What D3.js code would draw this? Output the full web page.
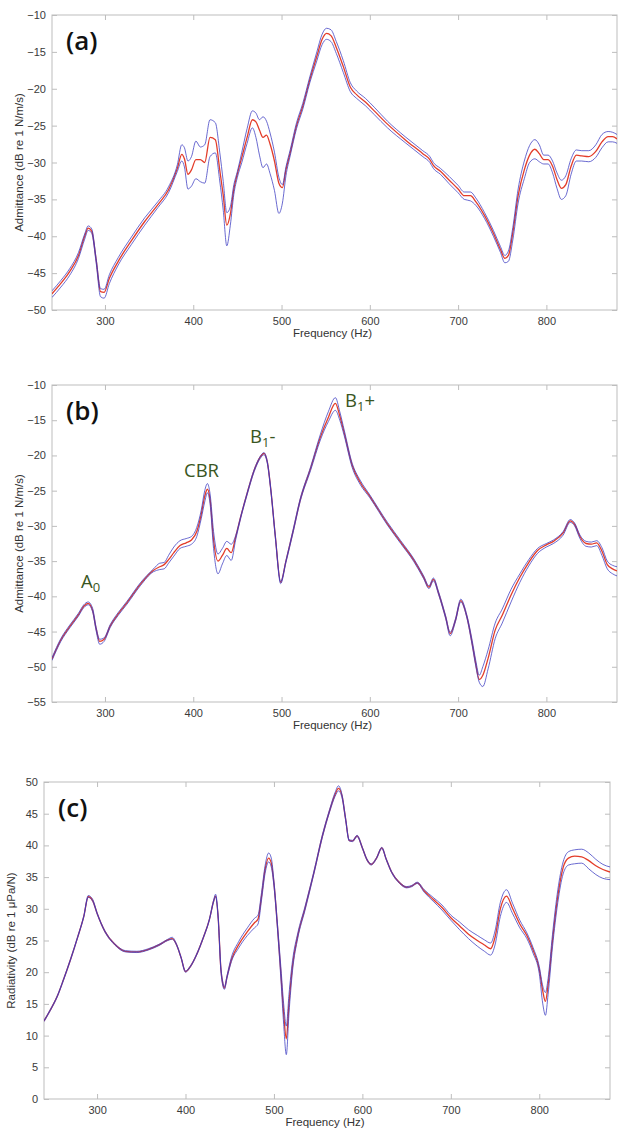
<!DOCTYPE html>
<html>
<head>
<meta charset="utf-8">
<script src="https://cdn.jsdelivr.net/npm/d3@7"></script>
<style>
  body { margin: 0; background: #fff; }
  svg { display: block; }
  .tick-label { font-family: "Liberation Sans", Arial, sans-serif; font-size: 11px; fill: #3a3a3a; }
  .axis-label { font-family: "Liberation Sans", Arial, sans-serif; font-size: 11.5px; fill: #333; }
  .panel-tag { font-family: "Open Sans", "Noto Sans", sans-serif; font-size: 26px; font-weight: 600; fill: #111; }
  .note { font-family: "Open Sans", "Noto Sans", sans-serif; font-size: 18.5px; fill: #395622; }
</style>
</head>
<body>
<div id="chart"></div>
<script>
// ---- panel (a): admittance, direction 1 ----
const freqA = [240, 250, 260, 270, 277, 281, 285, 290, 295, 299, 305, 315, 330, 345, 360, 372, 382, 387, 390, 394, 398, 403, 408, 413, 419, 425, 430, 434, 438, 442, 446, 450, 455, 461, 467, 471, 475, 479, 483, 487, 492, 497, 501, 505, 510, 517, 524, 532, 540, 546, 551, 556, 562, 570, 578, 585, 595, 605, 620, 640, 660, 668, 672, 680, 690, 700, 707, 714, 720, 730, 740, 748, 753, 757, 762, 768, 775, 781, 787, 792, 797, 802, 807, 812, 817, 822, 828, 834, 840, 848, 856, 863, 870, 875, 880];
const aMid = [-47.8, -46.4, -44.8, -42.6, -40.0, -38.9, -39.3, -43.2, -47.5, -47.6, -45.7, -43.4, -40.6, -38.0, -35.7, -33.7, -30.8, -28.9, -29.5, -31.6, -31.0, -29.6, -29.6, -30.0, -26.6, -26.9, -31.0, -34.5, -38.5, -37.0, -33.6, -31.5, -29.3, -26.6, -24.2, -24.5, -25.6, -26.6, -26.3, -27.5, -29.8, -32.8, -33.4, -31.0, -28.6, -25.0, -22.4, -18.8, -15.6, -13.3, -12.5, -12.8, -14.4, -17.0, -19.8, -20.8, -21.8, -23.0, -24.8, -26.9, -28.8, -29.6, -30.4, -31.2, -32.4, -33.6, -34.5, -34.5, -35.3, -37.2, -39.6, -41.8, -43.0, -42.6, -39.5, -34.5, -31.0, -29.0, -28.2, -28.8, -29.6, -29.6, -30.5, -32.3, -33.5, -33.0, -30.5, -29.0, -29.1, -29.2, -28.5, -27.2, -26.5, -26.5, -26.8];
const aHi = [-47.4, -46.0, -44.4, -42.2, -39.7, -38.6, -39.0, -43.0, -47.1, -47.2, -45.2, -42.9, -40.1, -37.5, -35.3, -33.3, -30.3, -27.6, -28.0, -29.8, -29.2, -27.1, -27.9, -27.6, -24.2, -24.6, -28.6, -32.6, -36.8, -36.0, -33.0, -31.2, -28.6, -25.4, -23.0, -23.3, -24.2, -23.8, -24.4, -26.0, -28.6, -32.0, -33.0, -30.6, -28.2, -24.6, -22.0, -18.4, -15.0, -12.6, -11.8, -12.0, -13.6, -16.2, -19.2, -20.3, -21.3, -22.5, -24.4, -26.5, -28.4, -29.2, -30.0, -30.8, -31.9, -33.1, -34.0, -34.0, -34.8, -36.8, -39.2, -41.4, -42.6, -42.0, -38.8, -33.6, -29.8, -27.7, -26.9, -27.6, -29.0, -29.0, -29.8, -31.4, -32.4, -31.8, -29.5, -28.3, -28.4, -28.4, -27.6, -26.2, -25.8, -25.9, -26.2];
const aLo = [-48.3, -46.9, -45.3, -43.0, -40.4, -39.2, -39.6, -43.6, -48.2, -48.4, -46.4, -43.9, -41.1, -38.5, -36.1, -34.1, -31.2, -29.8, -30.6, -33.6, -33.2, -32.2, -32.6, -32.8, -29.2, -28.7, -32.5, -36.5, -41.3, -38.5, -34.3, -32.0, -30.0, -27.4, -25.3, -26.6, -29.0, -30.7, -30.2, -31.5, -33.8, -36.9, -35.5, -31.8, -29.0, -25.4, -22.8, -19.2, -16.2, -14.0, -13.3, -13.6, -15.2, -17.8, -20.4, -21.3, -22.3, -23.5, -25.3, -27.3, -29.2, -30.0, -30.8, -31.6, -32.9, -34.1, -35.0, -35.2, -35.8, -37.6, -40.0, -42.2, -43.6, -43.4, -40.5, -35.5, -32.2, -30.0, -29.5, -29.9, -30.2, -30.2, -31.4, -33.5, -35.0, -34.5, -31.6, -29.8, -29.8, -29.9, -29.3, -28.0, -27.2, -27.2, -27.4];

// ---- panel (b): admittance, direction 2 ----
const freqB = [240, 250, 260, 270, 276, 281, 286, 290, 294, 299, 306, 315, 325, 340, 355, 362, 367, 372, 378, 385, 392, 398, 404, 409, 413, 416, 419, 423, 428, 433, 438, 443, 448, 454, 461, 469, 476, 480, 484, 488, 493, 499, 505, 513, 521, 533, 544, 553, 561, 566, 571, 580, 589, 600, 620, 635, 650, 661, 667, 672, 678, 686, 691, 697, 703, 710, 716, 720, 724, 728, 734, 742, 750, 760, 770, 780, 790, 800, 808, 819, 827, 832, 838, 845, 851, 857, 863, 869, 875, 880];
const bMid = [-48.9, -46.2, -44.3, -42.6, -41.4, -41.0, -42.0, -44.6, -46.4, -46.1, -44.2, -42.5, -40.9, -38.3, -36.3, -35.8, -35.5, -34.8, -33.8, -32.8, -32.4, -32.0, -30.8, -28.4, -25.8, -24.8, -26.2, -32.0, -35.0, -34.2, -33.2, -33.8, -31.6, -28.6, -25.4, -22.1, -20.2, -19.7, -21.0, -25.0, -31.5, -38.0, -35.0, -30.8, -26.4, -21.8, -17.4, -14.6, -12.6, -14.4, -16.8, -21.4, -23.8, -25.8, -29.7, -32.3, -34.9, -37.3, -38.7, -37.6, -39.6, -43.0, -45.3, -43.4, -40.6, -42.9, -46.7, -49.6, -51.8, -51.2, -48.8, -44.8, -42.7, -39.8, -37.3, -35.2, -33.5, -32.7, -32.2, -31.0, -29.3, -29.8, -31.5, -32.5, -32.6, -32.4, -33.6, -35.5, -36.1, -36.4];
const bHi = [-48.7, -46.0, -44.1, -42.4, -41.2, -40.8, -41.7, -44.4, -46.1, -45.9, -44.0, -42.3, -40.7, -38.1, -36.1, -35.3, -35.2, -34.2, -33.0, -32.1, -31.8, -31.5, -30.2, -27.8, -25.0, -24.0, -25.4, -30.8, -34.0, -33.2, -32.2, -32.6, -31.4, -28.5, -25.3, -22.0, -20.1, -19.6, -20.9, -24.9, -31.4, -37.9, -34.9, -30.6, -26.2, -21.6, -17.0, -13.8, -11.8, -13.8, -16.4, -21.1, -23.5, -25.6, -29.5, -32.1, -34.7, -37.1, -38.5, -37.4, -39.4, -42.8, -45.1, -43.2, -40.4, -42.7, -46.3, -49.1, -51.2, -50.0, -47.6, -43.8, -41.8, -39.0, -36.8, -34.8, -33.2, -32.5, -32.0, -30.8, -29.1, -29.6, -31.3, -32.2, -32.3, -32.1, -33.1, -35.0, -35.6, -35.8];
const bLo = [-49.1, -46.4, -44.5, -42.8, -41.6, -41.2, -42.2, -44.9, -46.8, -46.4, -44.4, -42.7, -41.1, -38.5, -36.5, -36.2, -36.1, -35.3, -34.3, -33.2, -32.9, -32.6, -31.5, -29.0, -26.6, -25.3, -26.8, -33.2, -36.8, -35.4, -34.2, -34.9, -32.0, -28.8, -25.6, -22.3, -20.4, -19.9, -21.2, -25.2, -31.7, -38.2, -35.2, -31.0, -26.6, -22.1, -17.8, -15.2, -13.6, -15.0, -17.2, -21.7, -24.1, -26.0, -29.9, -32.5, -35.1, -37.5, -38.9, -37.8, -39.8, -43.2, -45.6, -43.6, -40.8, -43.1, -47.0, -49.9, -52.2, -52.8, -50.3, -46.0, -43.8, -40.8, -38.0, -35.7, -33.9, -33.0, -32.5, -31.3, -29.5, -30.0, -31.8, -32.9, -33.0, -32.8, -34.2, -36.1, -36.8, -37.1];

// ---- panel (c): radiativity ----
const freqC = [240, 247, 255, 262, 270, 278, 285, 290, 295, 300, 309, 320, 332, 345, 358, 370, 380, 385, 390, 395, 400, 405, 412, 420, 427, 432, 434, 437, 440, 442, 444, 447, 452, 460, 470, 478, 482, 486, 490, 494, 497, 500, 504, 508, 511, 514, 517, 521, 527, 535, 545, 555, 563, 569, 573, 577, 581, 585, 589, 594, 600, 605, 610, 616, 622, 627, 633, 642, 650, 656, 662, 670, 680, 690, 700, 710, 720, 730, 738, 745, 750, 756, 763, 770, 778, 786, 793, 800, 804, 807, 810, 815, 821, 827, 833, 840, 848, 856, 864, 872, 880];
const cMid = [12.3, 14.0, 16.2, 18.8, 22.0, 25.5, 28.8, 31.9, 31.3, 29.3, 26.4, 24.4, 23.3, 23.2, 23.6, 24.3, 25.1, 25.3, 24.3, 22.3, 20.1, 20.8, 22.6, 25.4, 28.3, 31.3, 32.0, 28.5, 20.5, 18.3, 17.5, 19.3, 22.0, 24.3, 26.4, 27.8, 28.4, 32.0, 36.2, 38.0, 37.2, 34.0, 27.2, 19.5, 13.5, 9.5, 15.0, 21.0, 25.8, 30.0, 35.6, 41.6, 45.5, 48.0, 49.0, 47.8, 44.2, 40.8, 40.7, 41.5, 39.6, 37.8, 37.0, 38.0, 39.6, 37.8, 35.8, 34.1, 33.4, 33.6, 34.1, 32.8, 31.5, 30.2, 28.6, 27.3, 26.0, 25.0, 24.3, 23.7, 25.5, 30.0, 32.0, 30.0, 27.6, 25.8, 23.5, 20.5, 17.0, 15.4, 18.0, 25.0, 32.0, 36.5, 38.0, 38.3, 38.2, 37.6, 36.8, 36.2, 35.8];
const cHi = [12.4, 14.1, 16.3, 18.9, 22.1, 25.6, 28.9, 32.1, 31.5, 29.4, 26.5, 24.5, 23.4, 23.3, 23.7, 24.4, 25.2, 25.5, 24.4, 22.4, 20.2, 20.9, 22.7, 25.5, 28.4, 31.5, 32.3, 28.7, 20.8, 18.6, 17.7, 19.5, 22.4, 24.8, 27.0, 28.5, 29.0, 32.6, 36.8, 38.8, 38.0, 34.4, 27.6, 20.5, 15.0, 11.5, 16.5, 21.8, 26.2, 30.3, 35.8, 41.8, 45.7, 48.3, 49.4, 48.0, 44.4, 40.9, 40.8, 41.6, 39.7, 37.9, 37.1, 38.1, 39.7, 37.9, 35.9, 34.2, 33.5, 33.7, 34.2, 33.0, 31.8, 30.6, 29.0, 27.9, 26.7, 25.8, 25.1, 24.6, 26.5, 31.0, 33.0, 30.8, 28.2, 26.2, 23.9, 20.9, 17.8, 16.8, 19.0, 26.0, 33.0, 37.4, 39.0, 39.3, 39.4, 38.8, 37.8, 37.0, 36.6];
const cLo = [12.2, 13.9, 16.1, 18.7, 21.9, 25.4, 28.7, 31.8, 31.2, 29.2, 26.3, 24.3, 23.2, 23.1, 23.5, 24.2, 25.0, 25.2, 24.2, 22.2, 20.0, 20.7, 22.5, 25.3, 28.2, 31.2, 31.9, 28.3, 20.2, 18.0, 17.3, 19.1, 21.7, 23.8, 25.8, 27.0, 27.6, 31.4, 35.6, 37.4, 36.6, 33.6, 26.8, 18.6, 11.8, 7.0, 13.5, 20.2, 25.4, 29.7, 35.4, 41.4, 45.3, 47.7, 48.6, 47.5, 44.0, 40.7, 40.6, 41.4, 39.5, 37.7, 36.9, 37.9, 39.5, 37.7, 35.7, 34.0, 33.3, 33.5, 34.0, 32.6, 31.2, 29.8, 28.2, 26.7, 25.3, 24.1, 23.3, 22.7, 24.3, 28.8, 31.0, 29.2, 27.0, 25.3, 23.0, 19.8, 15.0, 13.2, 16.5, 24.0, 31.0, 35.5, 36.9, 37.1, 37.2, 36.3, 35.4, 34.8, 34.6];

const xTicks = [300, 400, 500, 600, 700, 800];
const yTicksA = [-10, -15, -20, -25, -30, -35, -40, -45, -50];
const yTicksB = [-10, -15, -20, -25, -30, -35, -40, -45, -50, -55];
const yTicksC = [0, 5, 10, 15, 20, 25, 30, 35, 40, 45, 50];

const width = 619;
const height = 1131;

const svg = d3.select('#chart').append('svg')
    .attr('width', width)
    .attr('height', height);

function drawPanel(p) {
    const x = d3.scaleLinear().domain([240, 880]).range([p.left, p.right]);
    const y = d3.scaleLinear().domain(p.yDomain).range([p.bottom, p.top]);
    const g = svg.append('g');

    g.append('clipPath').attr('id', 'clip-' + p.id)
        .append('rect')
        .attr('x', p.left).attr('y', p.top)
        .attr('width', p.right - p.left).attr('height', p.bottom - p.top);

    // box with inward ticks on all sides (matlab style)
    g.append('rect')
        .attr('x', p.left).attr('y', p.top)
        .attr('width', p.right - p.left).attr('height', p.bottom - p.top)
        .attr('fill', 'none').attr('stroke', '#bdbdbd').attr('stroke-width', 1);

    const tickLen = 5;
    g.append('g').attr('transform', `translate(0,${p.bottom})`)
        .call(d3.axisBottom(x).tickValues(xTicks).tickSizeInner(-tickLen).tickSizeOuter(0).tickPadding(7))
        .call(a => a.select('.domain').remove());
    g.append('g').attr('transform', `translate(0,${p.top})`)
        .call(d3.axisTop(x).tickValues(xTicks).tickSizeInner(-tickLen).tickSizeOuter(0).tickFormat(''))
        .call(a => a.select('.domain').remove());
    g.append('g').attr('transform', `translate(${p.left},0)`)
        .call(d3.axisLeft(y).tickValues(p.yTicks).tickSizeInner(-tickLen).tickSizeOuter(0).tickPadding(6))
        .call(a => a.select('.domain').remove());
    g.append('g').attr('transform', `translate(${p.right},0)`)
        .call(d3.axisRight(y).tickValues(p.yTicks).tickSizeInner(-tickLen).tickSizeOuter(0).tickFormat(''))
        .call(a => a.select('.domain').remove());

    g.selectAll('.tick line').attr('stroke', '#bdbdbd');
    g.selectAll('.tick text').attr('class', 'tick-label').attr('font-family', null).attr('font-size', null).attr('fill', null);

    // lines
    const line = d3.line()
        .x(d => x(d[0]))
        .y(d => y(d[1]))
        .curve(d3.curveMonotoneX);
    const lines = g.append('g').attr('clip-path', `url(#clip-${p.id})`);
    const series = [
        {values: p.mid, color: '#e2321e', w: 1.3, op: 0.95},
        {values: p.hi, color: '#3838c0', w: 1, op: 0.75},
        {values: p.lo, color: '#3838c0', w: 1, op: 0.75}
    ];
    series.forEach(s => {
        lines.append('path')
            .datum(p.freq.map((f, i) => [f, s.values[i]]))
            .attr('d', line)
            .attr('fill', 'none')
            .attr('stroke', s.color)
            .attr('stroke-width', s.w)
            .attr('stroke-opacity', s.op)
            .attr('stroke-linejoin', 'round');
    });

    // labels
    g.append('text')
        .attr('class', 'axis-label')
        .attr('x', (p.left + p.right) / 2 - 2)
        .attr('y', p.bottom + 27)
        .attr('text-anchor', 'middle')
        .text('Frequency (Hz)');
    g.append('text')
        .attr('class', 'axis-label')
        .attr('transform', `translate(${p.left - 29},${(p.top + p.bottom) / 2}) rotate(-90)`)
        .attr('text-anchor', 'middle')
        .text(p.yLabel);
    g.append('text')
        .attr('class', 'panel-tag')
        .attr('x', p.left + 14)
        .attr('y', p.top + 35)
        .text(p.tag);
}

drawPanel({id: 'a', tag: '(a)', left: 52, right: 617, top: 15, bottom: 310,
    yDomain: [-50, -10], yTicks: yTicksA, yLabel: 'Admittance (dB re 1 N/m/s)',
    freq: freqA, mid: aMid, hi: aHi, lo: aLo});
drawPanel({id: 'b', tag: '(b)', left: 52, right: 617, top: 385, bottom: 702,
    yDomain: [-55, -10], yTicks: yTicksB, yLabel: 'Admittance (dB re 1 N/m/s)',
    freq: freqB, mid: bMid, hi: bHi, lo: bLo});
drawPanel({id: 'c', tag: '(c)', left: 44, right: 610, top: 782, bottom: 1099,
    yDomain: [0, 50], yTicks: yTicksC, yLabel: 'Radiativity (dB re 1 \u03bcPa/N)',
    freq: freqC, mid: cMid, hi: cHi, lo: cLo});

// mode labels in panel (b)
const notes = [
    {main: 'A', sub: '0', after: '', x: 81, y: 588},
    {main: 'CBR', sub: '', after: '', x: 184, y: 477},
    {main: 'B', sub: '1', after: '-', x: 250, y: 443},
    {main: 'B', sub: '1', after: '+', x: 345, y: 407}
];
notes.forEach(n => {
    const t = svg.append('text').attr('class', 'note').attr('x', n.x).attr('y', n.y);
    t.append('tspan').text(n.main);
    if (n.sub) t.append('tspan').attr('font-size', '13px').attr('dy', 4).text(n.sub);
    if (n.after) t.append('tspan').attr('dy', -4).text(n.after);
});
</script>
</body>
</html>
